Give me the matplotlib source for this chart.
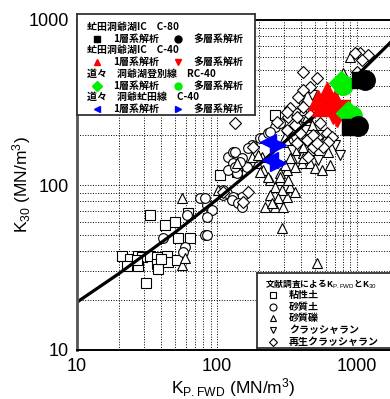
import matplotlib.pyplot as plt
from matplotlib.ticker import NullFormatter

plt.rcParams['font.family'] = ['Liberation Sans', 'Noto Sans CJK JP', 'DejaVu Sans']
plt.rcParams['mathtext.fontset'] = 'custom'
plt.rcParams['mathtext.rm'] = 'Liberation Sans'
plt.rcParams['mathtext.it'] = 'Liberation Sans:italic'

# literature data (K_P.FWD, K30)
clay_kp = [20.9, 23.9, 27.4, 29.0, 33.2, 37.1, 43.7, 22.6, 27.4, 37.1, 38.1, 44.9, 51.5,
           31.1, 33.2, 42.5, 50.1, 62.4, 52.9, 64.1, 105, 138, 259, 40.0, 26.7]
clay_k30 = [37.1, 35.5, 37.1, 36.8, 37.1, 36.8, 37.1, 32.3, 32.3, 33.2, 30.8, 34.3, 35.1,
            25.6, 65.8, 57.3, 60.0, 67.5, 47.5, 47.5, 115, 120, 266, 35.5, 35.1]

sand_kp = [75.6, 84.8, 92.1, 61.1, 82.0, 59.0, 57.2, 41.1, 120, 130, 178, 110, 130, 151,
           134, 166, 203, 130, 151, 164, 120, 139, 146, 134, 118, 130, 82.0, 128, 141, 151,
           110, 84.8, 84.8, 213, 231, 316, 259, 282, 239, 366]
sand_k30 = [83.4, 75.6, 70.5, 65.8, 49.8, 42.1, 39.3, 47.8, 148, 158, 175, 86.9, 81.1, 84.6,
            158, 168, 193, 136, 146, 128, 123, 118, 138, 128, 89.5, 84.6, 83.4, 81.1, 77.8, 73.6,
            93.3, 64.0, 49.8, 193, 207, 215, 225, 238, 209, 273]

gravel_kp = [56.2, 56.2, 59.0, 518, 291, 891, 795, 411, 440, 477, 391, 621, 306, 332, 373,
             411, 343, 405, 361, 316, 282, 239, 282, 332, 361, 316, 210, 193, 213, 231, 178,
             102, 316, 391, 411, 461, 361, 332, 411, 461, 501, 196, 306, 282, 321, 259, 291,
             239, 273, 259, 220, 247, 296, 203, 139, 641, 562]
gravel_k30 = [83.4, 32.7, 36.1, 33.7, 54.9, 597, 478, 285, 258, 231, 231, 158, 195, 187, 170,
              156, 146, 136, 128, 123, 118, 107, 107, 97.3, 90.8, 84.6, 148, 136, 123, 112, 148,
              93.3, 182, 187, 170, 163, 163, 146, 146, 136, 127, 152, 132, 112, 107, 97.3, 93.3,
              86.9, 83.4, 73.6, 73.6, 77.8, 73.6, 120, 136, 132, 123]

crusher_kp = [391, 477, 562, 697, 425, 343, 756, 526]
crusher_k30 = [327, 351, 201, 175, 215, 163, 152, 142]

recycled_kp = [134, 1050, 1200, 1086, 968, 411, 1000, 518, 461, 411, 379, 332, 321, 361, 316,
               544, 611, 663, 621, 572, 373, 440, 518, 485, 181, 110, 166, 268, 316, 373, 411,
               461, 391, 485, 518, 447, 153]
recycled_k30 = [238, 631, 614, 573, 631, 484, 484, 445, 393, 376, 341, 293, 258, 231, 215,
                238, 207, 195, 182, 170, 180, 187, 195, 170, 170, 90.8, 90.8, 241, 277, 258, 297,
                266, 207, 201, 180, 148, 78.9]

# field tests
c80_single_kp = [891, 1050]
c80_single_k30 = [225, 433]
c80_multi_kp = [1140, 1016]
c80_multi_k30 = [433, 228]
c40_single_kp = [527, 611, 697, 562, 663]
c40_single_k30 = [327, 366, 327, 301, 310]
c40_multi_kp = [674, 756, 720]
c40_multi_k30 = [269, 285, 258]
rc40_single_kp = [862, 769]
rc40_single_k30 = [273, 415]
rc40_multi_kp = [795, 920]
rc40_multi_k30 = [404, 262]
abuta_single_kp = [231, 239]
abuta_single_k30 = [182, 142]
abuta_multi_kp = [273, 273]
abuta_multi_k30 = [175, 136]

# regression curve
fit_kp = [10, 20, 50, 100, 200, 500, 1000, 2000]
fit_k30 = [19.5, 29.1, 51.5, 81.7, 133, 265, 461, 822]

W, H = 390, 399
fig = plt.figure(figsize=(W / 100, H / 100), dpi=100)
ax = fig.add_axes([77 / W, (H - 350) / H, 322 / W, 330 / H])
ax.set_xscale('log')
ax.set_yscale('log')
ax.set_xlim(10, 2000)
ax.set_ylim(10, 1000)
ax.grid(True, which='both', color='k', ls=':', lw=0.7)
ax.set_xticks([10, 100, 1000])
ax.set_xticklabels(['10', '100', '1000'])
ax.set_yticks([10, 100, 1000])
ax.set_yticklabels(['10', '100', '1000'])
ax.xaxis.set_minor_formatter(NullFormatter())
ax.yaxis.set_minor_formatter(NullFormatter())
ax.tick_params(which='both', length=0, labelsize=13)
ax.tick_params(axis='x', pad=6)
ax.tick_params(axis='y', pad=6)
for s in ['top', 'right', 'bottom']:
    ax.spines[s].set_linewidth(1.4)
ax.spines['left'].set_color('#555555')
ax.spines['left'].set_linewidth(2)

op = dict(ls='none', mfc='white', mec='k', mew=0.8, ms=7)
ax.plot(clay_kp, clay_k30, marker='s', **op)
ax.plot(sand_kp, sand_k30, marker='o', **op)
ax.plot(gravel_kp, gravel_k30, marker='^', **op)
ax.plot(crusher_kp, crusher_k30, marker='v', **op)
ax.plot(recycled_kp, recycled_k30, marker='D', **dict(op, ms=6.5))

ax.plot(fit_kp, fit_k30, color='k', lw=2.3)

ax.plot(c40_single_kp, c40_single_k30, 'r^', ms=15)
ax.plot(c40_multi_kp, c40_multi_k30, 'rv', ms=15)
ax.plot(rc40_single_kp, rc40_single_k30, 'D', color='#00ee00', ms=12)
ax.plot(rc40_multi_kp, rc40_multi_k30, 'o', color='#00ee00', ms=14)
ax.plot(c80_single_kp, c80_single_k30, 'ks', ms=12)
ax.plot(c80_multi_kp, c80_multi_k30, 'ko', ms=14)
ax.plot(abuta_single_kp, abuta_single_k30, '<', color='#0000ff', ms=11)
ax.plot(abuta_multi_kp, abuta_multi_k30, '>', color='#0000ff', ms=11)

fig.text(233 / W, 1 - 388 / H, r'K$_{\mathrm{P.FWD}}$ (MN/m$^3$)', fontsize=12.5,
         ha='center', va='center')
fig.text(22 / W, 1 - 185 / H, r'K$_{\mathrm{30}}$ (MN/m$^3$)', fontsize=12.5,
         ha='center', va='center', rotation=90)

jp = dict(family=['Noto Sans CJK JP', 'DejaVu Sans'], fontweight='bold', fontsize=7.2,
          va='center')

# legend of field tests
lg = fig.add_axes([77 / W, 1 - 115 / H, 178 / W, 101 / H])
lg.set_xlim(77, 255)
lg.set_ylim(115, 14)
lg.set_xticks([])
lg.set_yticks([])
for s in lg.spines.values():
    s.set_linewidth(1.3)
    s.set_color('#333333')
heads = ['虻田洞爺湖IC\u3000C-80', '虻田洞爺湖IC\u3000C-40',
         '道々\u3000洞爺湖登別線\u3000RC-40', '道々\u3000洞爺虻田線\u3000C-40']
marks = [('s', 'o', 'k'), ('^', 'v', 'r'), ('D', 'o', '#00ee00'), ('<', '>', '#0000ff')]
for i, (h, m) in enumerate(zip(heads, marks)):
    y0 = 26.5 + i * 23.5
    y1 = y0 + 12
    lg.text(87, y0, h, **jp)
    lg.plot(97, y1, m[0], color=m[2], ms=5)
    lg.text(113, y1, '1層系解析', **jp)
    lg.plot(178, y1, m[1], color=m[2], ms=5)
    lg.text(193, y1, '多層系解析', **jp)

# legend of literature data
lg2 = fig.add_axes([257 / W, 1 - 348 / H, 150 / W, 75 / H])
lg2.set_xlim(257, 407)
lg2.set_ylim(348, 273)
lg2.set_xticks([])
lg2.set_yticks([])
for s in lg2.spines.values():
    s.set_linewidth(1.3)
    s.set_color('#333333')
lg2.text(265, 284, r'文献調査によるK$_{\mathrm{P.FWD}}$とK$_{\mathrm{30}}$', **dict(jp, fontsize=6.3))
names = ['粘性土', '砂質土', '砂質礫', 'クラッシャラン', '再生クラッシャラン']
syms = ['s', 'o', '^', 'v', 'D']
for i, (n, m) in enumerate(zip(names, syms)):
    y = 295 + i * 11.7
    lg2.plot(273, y, m, mfc='white', mec='k', mew=0.8, ms=5 if m != 'D' else 4.5)
    lg2.text(289, y, n, **jp)

fig.savefig('out.png', dpi=100)
